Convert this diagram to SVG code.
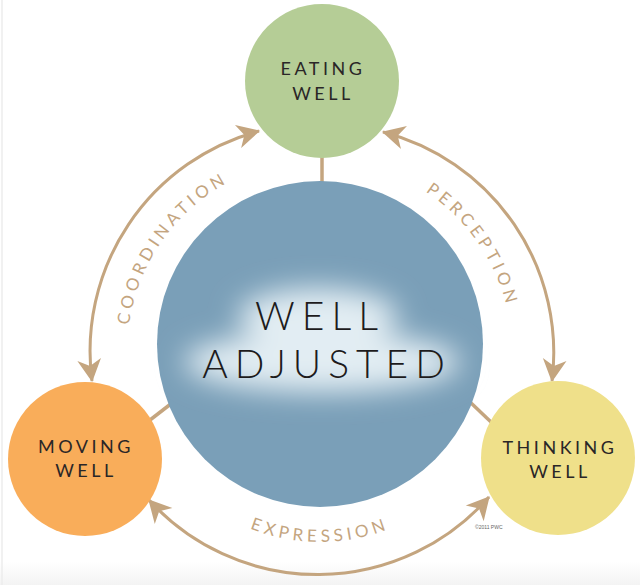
<svg xmlns="http://www.w3.org/2000/svg" width="640" height="585" viewBox="0 0 640 585">
<defs>
<style>
.node-label{font-family:Lato,"Noto Sans","Liberation Sans",sans-serif;font-size:18px;font-weight:400;fill:#2a2627;letter-spacing:3.5px;text-anchor:middle}
.center-label{font-family:Lato,"Noto Sans","Liberation Sans",sans-serif;font-size:39px;font-weight:300;fill:#1d1b1c;letter-spacing:7px;text-anchor:middle}
.arc-label{font-family:Lato,"Noto Sans","Liberation Sans",sans-serif;font-size:17px;font-weight:400;fill:#c4a57f;letter-spacing:4.2px}
.arc{fill:none;stroke:#c4a57f;stroke-width:3}
.link{stroke:#c4a57f;stroke-width:3.5}
</style>
<marker id="arrow" markerUnits="userSpaceOnUse" markerWidth="26" markerHeight="26" viewBox="-21 -12 24 24" refX="0" refY="0" orient="auto-start-reverse">
<path d="M1,0 L-20,-11 L-14,0 L-20,11 Z" fill="#c4a57f"/>
</marker>
<filter id="blur" x="-50%" y="-50%" width="200%" height="200%">
<feGaussianBlur stdDeviation="14"/>
</filter>
<linearGradient id="floor" x1="0" y1="0" x2="0" y2="1">
<stop offset="0" stop-color="#ffffff"/>
<stop offset="1" stop-color="#f3f3f3"/>
</linearGradient>
<path id="pCoord" d="M 152.9 448.5 A 193 193 0 0 1 353.5 161.9"/>
<path id="pPerc" d="M 286.7 162.9 A 192 192 0 0 1 486.3 448"/>
<path id="pExpr" d="M 155.5 447 A 190 190 0 0 0 484.5 447"/>
</defs>
<rect width="640" height="585" fill="#ffffff"/>
<rect x="0" y="562" width="640" height="23" fill="url(#floor)"/>
<line x1="2" y1="0" x2="2" y2="585" stroke="#ececec" stroke-width="1.5"/>

<g id="connectors">
<line class="link" x1="322" y1="156" x2="322" y2="184"/>
<line class="link" x1="150" y1="420" x2="172" y2="403"/>
<line class="link" x1="470" y1="402" x2="491" y2="422"/>
<path class="arc" d="M 92 381 A 228 228 0 0 1 259 131" marker-start="url(#arrow)" marker-end="url(#arrow)"/>
<path class="arc" d="M 383 132 A 228 228 0 0 1 552 381" marker-start="url(#arrow)" marker-end="url(#arrow)"/>
<path class="arc" d="M 489 497 A 228 228 0 0 1 149 500" marker-start="url(#arrow)" marker-end="url(#arrow)"/>
<text class="arc-label"><textPath href="#pCoord" startOffset="50%" text-anchor="middle">COORDINATION</textPath></text>
<text class="arc-label"><textPath href="#pPerc" startOffset="50%" text-anchor="middle">PERCEPTION</textPath></text>
<text class="arc-label"><textPath href="#pExpr" startOffset="50%" text-anchor="middle">EXPRESSION</textPath></text>
</g>

<g id="well-adjusted">
<circle cx="320" cy="344" r="163" fill="#7a9fb8"/>
<g filter="url(#blur)" fill="#e2edf3">
<ellipse cx="318" cy="316" rx="80" ry="28"/>
<ellipse cx="322" cy="362" rx="138" ry="30"/>
</g>
<text class="center-label" x="320" y="330">WELL</text>
<text class="center-label" x="327" y="378">ADJUSTED</text>
</g>

<g id="eating-well">
<circle cx="322" cy="81" r="77" fill="#b5cd96"/>
<text class="node-label" x="323" y="75">EATING</text>
<text class="node-label" x="323" y="100">WELL</text>
</g>

<g id="moving-well">
<circle cx="85" cy="459" r="77" fill="#f9ad5a"/>
<text class="node-label" x="86" y="453">MOVING</text>
<text class="node-label" x="86" y="477">WELL</text>
</g>

<g id="thinking-well">
<circle cx="558" cy="458" r="77" fill="#efe08a"/>
<text class="node-label" x="560" y="454">THINKING</text>
<text class="node-label" x="560" y="478">WELL</text>
</g>

<text x="475" y="529" font-family="'Liberation Sans',Arial,sans-serif" font-size="5" fill="#666">©2011 PWC</text>
</svg>
